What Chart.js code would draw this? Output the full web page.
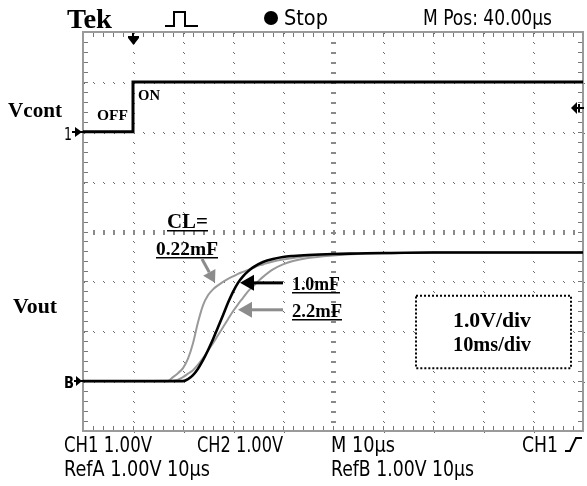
<!DOCTYPE html>
<html><head><meta charset="utf-8">
<script src="https://cdn.jsdelivr.net/npm/chart.js@4.4.1/dist/chart.umd.min.js"></script>
<style>html,body{margin:0;padding:0;background:#fff;overflow:hidden}#wrap{position:relative;width:587px;height:486px}</style>
</head><body><div id="wrap"><canvas id="c" width="587" height="486"></canvas></div>
<script>
// ---- data (time in ms from left edge of screen, volts) ----
const timeMs  = [0, 17, 18, 19, 20, 21, 22, 23, 24, 25, 26, 27, 28, 29, 30, 31, 32, 33, 34, 35, 36, 38, 40, 42, 45, 50, 55, 60, 70, 80, 90, 100];
const vout022 = [0, 0.01, 0.08, 0.16, 0.26, 0.45, 0.76, 1.18, 1.52, 1.72, 1.84, 1.92, 1.99, 2.05, 2.10, 2.15, 2.19, 2.23, 2.27, 2.31, 2.34, 2.40, 2.44, 2.47, 2.51, 2.54, 2.56, 2.57, 2.58, 2.58, 2.58, 2.58];
const vout10  = [0, 0, 0, 0, 0, 0.04, 0.12, 0.25, 0.42, 0.62, 0.84, 1.08, 1.32, 1.57, 1.79, 1.97, 2.10, 2.20, 2.28, 2.34, 2.39, 2.45, 2.49, 2.51, 2.53, 2.55, 2.56, 2.57, 2.58, 2.58, 2.58, 2.58];
const vout22  = [0, 0, 0.01, 0.03, 0.08, 0.15, 0.22, 0.33, 0.46, 0.61, 0.76, 0.92, 1.08, 1.24, 1.40, 1.54, 1.67, 1.80, 1.90, 2.00, 2.09, 2.24, 2.34, 2.41, 2.47, 2.52, 2.55, 2.56, 2.58, 2.58, 2.58, 2.58];
const vcontTime  = [0, 10, 10, 100];
const vcontVolts = [0, 0, 1, 1];
const CH1_POSITION = 5;   // divisions above the CH2/Ref ground
const timeTicks = [0, 10, 20, 30, 40, 50, 60, 70, 80, 90, 100];
const voltTicks = [-1, 0, 1, 2, 3, 4, 5, 6, 7];

const toPts = (xs, ys, off) => xs.map((x, i) => ({x, y: ys[i] + (off || 0)}));

const SERIF = '"Liberation Serif","Times New Roman",serif';
const SCOPE = '"Liberation Sans Narrow","DejaVu Sans Condensed","Liberation Sans",sans-serif';

function fitText(ctx, txt, x, y, w, font, color) {
  ctx.save();
  ctx.font = font; ctx.fillStyle = color || '#000';
  ctx.textAlign = 'left'; ctx.textBaseline = 'alphabetic';
  const m = ctx.measureText(txt).width;
  ctx.translate(x, y); ctx.scale(w / m, 1);
  ctx.fillText(txt, 0, 0);
  ctx.restore();
}
function arrow(ctx, x1, y1, x2, y2, color, lw, head, hw) {
  const ang = Math.atan2(y2 - y1, x2 - x1);
  const bx = x2 - head * Math.cos(ang), by = y2 - head * Math.sin(ang);
  ctx.save();
  ctx.strokeStyle = color; ctx.fillStyle = color; ctx.lineWidth = lw;
  ctx.beginPath(); ctx.moveTo(x1, y1); ctx.lineTo(bx, by); ctx.stroke();
  ctx.beginPath(); ctx.moveTo(x2, y2);
  ctx.lineTo(bx + hw * Math.sin(ang), by - hw * Math.cos(ang));
  ctx.lineTo(bx - hw * Math.sin(ang), by + hw * Math.cos(ang));
  ctx.closePath(); ctx.fill();
  ctx.restore();
}

const graticule = {
  id: 'graticule',
  beforeDatasetsDraw(chart) {
    const ctx = chart.ctx, a = chart.chartArea, xs = chart.scales.x, ys = chart.scales.y;
    const X = t => Math.round(xs.getPixelForValue(t));
    const Y = v => Math.round(ys.getPixelForValue(v));
    ctx.save();
    ctx.fillStyle = '#6a6a6a';
    const dot = (px, py) => { ctx.fillRect(px, py, 1, 1); ctx.fillRect(px + 1, py + 1, 1, 1); };
    timeTicks.forEach(t => {
      if (t === 0 || t === 100 || t === 50) return;
      for (let k = 0; k <= 40; k++) dot(X(t), Y(-1 + k * 0.2));
    });
    voltTicks.forEach(v => {
      if (v === -1 || v === 7 || v === 3) return;
      for (let k = 0; k <= 50; k++) dot(X(k * 2), Y(v));
    });
    ctx.fillStyle = '#8a8a8a';
    for (let k = 1; k < 40; k++) ctx.fillRect(X(50) - 2, Y(-1 + k * 0.2), 5, 2);
    for (let k = 1; k < 50; k++) ctx.fillRect(X(k * 2), Y(3) - 2, 2, 5);
    ctx.strokeStyle = '#9a9a9a'; ctx.lineWidth = 2;
    ctx.strokeRect(a.left, a.top, a.right - a.left, a.bottom - a.top);
    ctx.fillStyle = '#777';
    for (let k = 1; k < 50; k++) {
      ctx.fillRect(X(k * 2), a.top + 1, 1, 4);
      ctx.fillRect(X(k * 2), a.bottom - 5, 1, 4);
    }
    for (let k = 1; k < 40; k++) {
      ctx.fillRect(a.left + 1, Y(-1 + k * 0.2), 4, 1);
      ctx.fillRect(a.right - 5, Y(-1 + k * 0.2), 4, 1);
    }
    ctx.restore();
  },
  afterDatasetsDraw(chart) {
    const ctx = chart.ctx, a = chart.chartArea, xs = chart.scales.x, ys = chart.scales.y;
    const X = t => xs.getPixelForValue(t);
    const Y = v => ys.getPixelForValue(v);
    ctx.save();
    const tx = Math.round(X(10));
    ctx.fillStyle = '#000';
    ctx.fillRect(tx - 1, a.top + 1, 2, 10);
    ctx.fillRect(tx - 5, a.top + 4, 11, 2);
    ctx.beginPath(); ctx.moveTo(tx - 5, a.top + 6); ctx.lineTo(tx + 6, a.top + 6); ctx.lineTo(tx + 0.5, a.top + 13); ctx.closePath(); ctx.fill();
    const ty = Math.round(Y(CH1_POSITION + 0.48));
    ctx.fillRect(a.right - 8, ty - 1, 9, 2);
    ctx.beginPath(); ctx.moveTo(a.right - 12, ty); ctx.lineTo(a.right - 6, ty - 6); ctx.lineTo(a.right - 6, ty + 6); ctx.closePath(); ctx.fill();
    ctx.fillRect(a.right - 5, ty - 4, 2, 8);
    const c1 = Math.round(Y(CH1_POSITION));
    fitText(ctx, '1', 64, c1 + 8, 8, '18px ' + SCOPE);
    ctx.fillRect(72, c1 - 1, 11, 2);
    ctx.beginPath(); ctx.moveTo(75, c1 - 5); ctx.lineTo(82, c1); ctx.lineTo(75, c1 + 5); ctx.closePath(); ctx.fill();
    const c2 = Math.round(Y(0));
    fitText(ctx, 'B', 64, c2 + 7, 10, 'bold 16px ' + SCOPE);
    ctx.fillRect(74, c2 - 1, 9, 2);
    ctx.beginPath(); ctx.moveTo(76, c2 - 5); ctx.lineTo(82, c2); ctx.lineTo(76, c2 + 5); ctx.closePath(); ctx.fill();

    const B = s => 'bold ' + s + 'px ' + SERIF;
    fitText(ctx, 'OFF', X(2.8), Y(5.24), 31, B(15));
    fitText(ctx, 'ON', X(11), Y(5.64), 22, B(15));
    fitText(ctx, 'CL=', X(16.8), Y(3.07), 41, B(20));
    fitText(ctx, '0.22mF', X(14.6), Y(2.53), 62, B(19));
    ctx.fillStyle = '#000';
    ctx.fillRect(Math.round(X(16.8)), Math.round(Y(3.07)) + 2, 41, 1.5);
    ctx.fillRect(Math.round(X(14.6)), Math.round(Y(2.53)) + 2, 62, 1.5);
    arrow(ctx, X(23.8), Y(2.45), X(26.4), Y(1.97), '#8c8c8c', 3, 12, 7);
    fitText(ctx, '1.0mF', X(41.8), Y(1.83), 48, B(18));
    fitText(ctx, '2.2mF', X(41.8), Y(1.29), 50, B(18));
    ctx.fillRect(Math.round(X(41.8)), Math.round(Y(1.83)) + 2, 48, 1.5);
    ctx.fillRect(Math.round(X(41.8)), Math.round(Y(1.29)) + 2, 50, 1.5);
    arrow(ctx, X(40), Y(1.97), X(31.4), Y(1.97), '#000', 3, 14, 8);
    arrow(ctx, X(40), Y(1.43), X(31.0), Y(1.43), '#8c8c8c', 3, 14, 8);
    ctx.save();
    ctx.fillStyle = '#fff';
    const bx1 = X(66.6), bx2 = X(97.6), by1 = Y(1.71), by2 = Y(0.26);
    ctx.fillRect(bx1, by1, bx2 - bx1, by2 - by1);
    ctx.strokeStyle = '#000'; ctx.lineWidth = 2; ctx.setLineDash([2, 2]);
    ctx.strokeRect(bx1, by1, bx2 - bx1, by2 - by1);
    ctx.restore();
    fitText(ctx, '1.0V/div', X(81.8) - 39, Y(1.09), 78, B(20));
    fitText(ctx, '10ms/div', X(81.8) - 39, Y(0.60), 78, B(20));
    ctx.restore();
  },
  afterDraw(chart) {
    const ctx = chart.ctx;
    ctx.save();
    const B = s => 'bold ' + s + 'px ' + SERIF;
    fitText(ctx, 'Vcont', 8, 117, 54, B(21));
    fitText(ctx, 'Vout', 13, 313, 44, B(21));
    fitText(ctx, 'Tek', 67, 28, 45, B(27));
    ctx.strokeStyle = '#000'; ctx.lineWidth = 2;
    ctx.beginPath(); ctx.moveTo(165, 26); ctx.lineTo(174, 26); ctx.lineTo(174, 12); ctx.lineTo(185, 12); ctx.lineTo(185, 26); ctx.lineTo(198, 26); ctx.stroke();
    ctx.fillStyle = '#000';
    ctx.beginPath(); ctx.arc(271, 18, 7, 0, Math.PI * 2); ctx.fill();
    const S = '21px ' + SCOPE;
    fitText(ctx, 'Stop', 284, 25, 44, S);
    fitText(ctx, 'M Pos: 40.00\u00b5s', 423, 25, 129, S);
    fitText(ctx, 'CH1 1.00V', 64, 452, 88, S);
    fitText(ctx, 'CH2 1.00V', 197, 452, 86, S);
    fitText(ctx, 'M 10\u00b5s', 331, 452, 64, S);
    fitText(ctx, 'CH1', 522, 452, 36, S);
    ctx.beginPath(); ctx.moveTo(565, 451); ctx.lineTo(570, 451); ctx.lineTo(576, 438); ctx.lineTo(582, 438); ctx.stroke();
    fitText(ctx, 'RefA 1.00V 10\u00b5s', 64, 476, 146, S);
    fitText(ctx, 'RefB 1.00V 10\u00b5s', 331, 476, 143, S);
    ctx.restore();
  }
};

new Chart(document.getElementById('c'), {
  type: 'line',
  data: {
    datasets: [
      { label: 'Vcont', data: toPts(vcontTime, vcontVolts, CH1_POSITION), borderColor: '#000', borderWidth: 3, pointRadius: 0, order: 0 },
      { label: 'CL=1.0mF', data: toPts(timeMs, vout10), borderColor: '#000', borderWidth: 2.6, pointRadius: 0, cubicInterpolationMode: 'monotone', order: 1 },
      { label: 'CL=0.22mF', data: toPts(timeMs, vout022), borderColor: '#999', borderWidth: 2, pointRadius: 0, cubicInterpolationMode: 'monotone', order: 2 },
      { label: 'CL=2.2mF', data: toPts(timeMs, vout22), borderColor: '#999', borderWidth: 2, pointRadius: 0, cubicInterpolationMode: 'monotone', order: 3 }
    ]
  },
  options: {
    responsive: false, animation: false, devicePixelRatio: 1,
    layout: { padding: { left: 83, top: 32, right: 4, bottom: 55 } },
    plugins: { legend: { display: false }, tooltip: { enabled: false } },
    scales: {
      x: { type: 'linear', min: 0, max: 100, display: false },
      y: { type: 'linear', min: -1, max: 7, display: false }
    }
  },
  plugins: [graticule]
});
</script></body></html>
